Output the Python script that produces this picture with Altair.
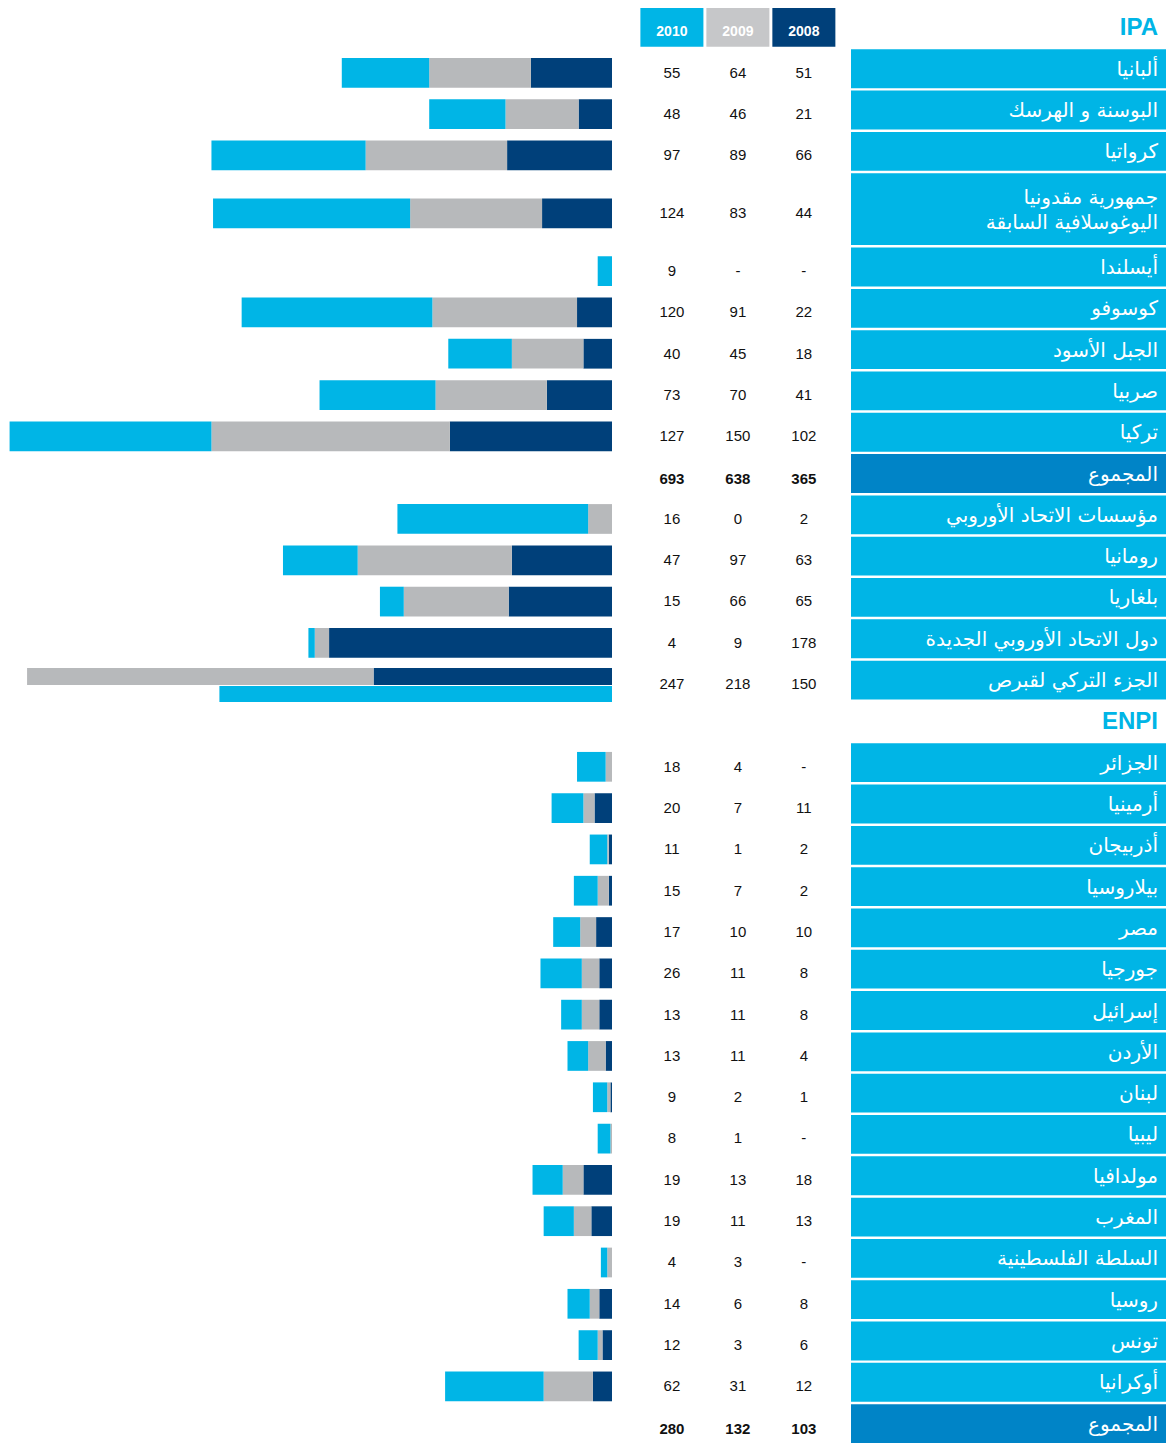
import altair as alt
import pandas as pd

# ---------------- data ----------------
YEARS = ["2010", "2009", "2008"]
TOTAL = "المجموع"

ipa_title = "IPA"
ipa_names = [
    "ألبانيا",
    "البوسنة و الهرسك",
    "كرواتيا",
    "جمهورية مقدونيا\nاليوغوسلافية السابقة",
    "أيسلندا",
    "كوسوفو",
    "الجبل الأسود",
    "صربيا",
    "تركيا",
    TOTAL,
    "مؤسسات الاتحاد الأوروبي",
    "رومانيا",
    "بلغاريا",
    "دول الاتحاد الأوروبي الجديدة",
    "الجزء التركي لقبرص",
]
ipa_2010 = [55, 48, 97, 124, 9, 120, 40, 73, 127, 693, 16, 47, 15, 4, 247]
ipa_2009 = [64, 46, 89, 83, None, 91, 45, 70, 150, 638, 0, 97, 66, 9, 218]
ipa_2008 = [51, 21, 66, 44, None, 22, 18, 41, 102, 365, 2, 63, 65, 178, 150]

enpi_title = "ENPI"
enpi_names = [
    "الجزائر", "أرمينيا", "أذربيجان", "بيلاروسيا", "مصر", "جورجيا",
    "إسرائيل", "الأردن", "لبنان", "ليبيا", "مولدافيا", "المغرب",
    "السلطة الفلسطينية", "روسيا", "تونس", "أوكرانيا", TOTAL,
]
enpi_2010 = [18, 20, 11, 15, 17, 26, 13, 13, 9, 8, 19, 19, 4, 14, 12, 62, 280]
enpi_2009 = [4, 7, 1, 7, 10, 11, 11, 11, 2, 1, 13, 11, 3, 6, 3, 31, 132]
enpi_2008 = [None, 11, 2, 2, 10, 8, 8, 4, 1, None, 18, 13, None, 8, 6, 12, 103]

# bar lengths drawn in the source that differ from the printed figures
bar_overrides = {"مؤسسات الاتحاد الأوروبي": (120, 15, 0)}

# ---------------- styling ----------------
CYAN = "#00b5e6"
GRAY = "#b7b9bb"
GRAY_HEAD = "#c6c7c9"
NAVY = "#00407a"
TOTAL_BLUE = "#0084c7"
XMAX = 380

# ---------------- build tables ----------------
rows = []


def add_section(title, names, v10, v09, v08):
    rows.append(dict(kind="title", name=title, vals=None))
    for n, a, b, c in zip(names, v10, v09, v08):
        rows.append(dict(kind="total" if n == TOTAL else "row", name=n, vals=(a, b, c)))


add_section(ipa_title, ipa_names, ipa_2010, ipa_2009, ipa_2008)
add_section(enpi_title, enpi_names, enpi_2010, enpi_2009, enpi_2008)

cur, prev_h = None, None
for r in rows:
    h = 1 + 0.8 * r["name"].count("\n")
    cur = 0.0 if cur is None else cur + prev_h / 2 + h / 2
    r["c"], r["h"] = cur, h
    prev_h = h

y_lo = -0.47
y_hi = rows[-1]["c"] + 0.47

bars, nums, boxes, titles = [], [], [], []
for r in rows:
    c = r["c"]
    if r["kind"] == "title":
        titles.append(dict(name=r["name"], c=c))
        continue
    half = r["h"] / 2 - 0.03
    boxes.append(dict(name=r["name"], c=c, b0=c - half, b1=c + half, kind=r["kind"],
                      multi=int(r["name"].count("\n") > 0)))
    for yr, v in zip(YEARS, r["vals"]):
        nums.append(dict(year=yr, c=c, label="-" if v is None else str(v), kind=r["kind"]))
    if r["kind"] == "row":
        b10, b09, b08 = bar_overrides.get(r["name"], tuple(0 if v is None else v for v in r["vals"]))
        if b10 + b09 + b08 > XMAX:
            bars.append(dict(year="2008", x0=0, x1=b08, y0=c - 0.29, y1=c + 0.12))
            bars.append(dict(year="2009", x0=b08, x1=b08 + b09, y0=c - 0.29, y1=c + 0.12))
            bars.append(dict(year="2010", x0=0, x1=b10, y0=c + 0.145, y1=c + 0.53))
        else:
            y0, y1 = c + 0.1 - 0.36, c + 0.1 + 0.36
            bars.append(dict(year="2008", x0=0, x1=b08, y0=y0, y1=y1))
            bars.append(dict(year="2009", x0=b08, x1=b08 + b09, y0=y0, y1=y1))
            bars.append(dict(year="2010", x0=b08 + b09, x1=b08 + b09 + b10, y0=y0, y1=y1))

bars_df = pd.DataFrame(bars)
bars_df = bars_df[bars_df.x1 > bars_df.x0]
nums_df = pd.DataFrame(nums)
boxes_df = pd.DataFrame(boxes)
titles_df = pd.DataFrame(titles)
head_c = rows[0]["c"]
head_df = pd.DataFrame(dict(year=YEARS, b0=[head_c - 0.47] * 3, b1=[head_c + 0.47] * 3, c=[head_c] * 3))

H = 1435


def yscale():
    return alt.Scale(domain=[y_lo, y_hi], reverse=True, nice=False, zero=False)


year_color = alt.Scale(domain=YEARS, range=[CYAN, GRAY, NAVY])

# ---------------- panel 1 : bars ----------------
bar_panel = alt.Chart(bars_df).mark_rect().encode(
    x=alt.X("x0:Q", scale=alt.Scale(domain=[0, XMAX], reverse=True, nice=False, zero=False), axis=None),
    x2="x1:Q",
    y=alt.Y("y0:Q", scale=yscale(), axis=None),
    y2="y1:Q",
    color=alt.Color("year:N", scale=year_color, legend=None),
).properties(width=604, height=H)

# ---------------- panel 2 : numbers ----------------
xband = alt.X("year:N", scale=alt.Scale(domain=YEARS, paddingInner=0.045, paddingOuter=0.326, align=0.66),
              axis=None)
head_boxes = alt.Chart(head_df).mark_rect().encode(
    x=xband,
    y=alt.Y("b0:Q", scale=yscale(), axis=None),
    y2="b1:Q",
    color=alt.Color("year:N", scale=alt.Scale(domain=YEARS, range=[CYAN, GRAY_HEAD, NAVY]), legend=None),
)
head_text = alt.Chart(head_df).mark_text(
    font="Liberation Sans", fontSize=14, fontWeight="bold", color="white", baseline="middle", dy=5
).encode(x=xband, y=alt.Y("c:Q", scale=yscale(), axis=None), text="year:N")
num_text = alt.Chart(nums_df).transform_filter(alt.datum.kind == "row").mark_text(
    font="Liberation Sans", fontSize=15, color="#111111", baseline="middle", dy=4
).encode(x=xband, y=alt.Y("c:Q", scale=yscale(), axis=None), text="label:N")
tot_text = alt.Chart(nums_df).transform_filter(alt.datum.kind == "total").mark_text(
    font="Liberation Sans", fontSize=15, fontWeight="bold", color="#111111", baseline="middle", dy=5
).encode(x=xband, y=alt.Y("c:Q", scale=yscale(), axis=None), text="label:N")
num_panel = alt.layer(head_boxes, head_text, num_text, tot_text).properties(width=238, height=H)

# ---------------- panel 3 : country labels ----------------
label_boxes = alt.Chart(boxes_df).mark_rect().encode(
    x=alt.value(1),
    x2=alt.value(316),
    y=alt.Y("b0:Q", scale=yscale(), axis=None),
    y2="b1:Q",
    color=alt.Color("kind:N", scale=alt.Scale(domain=["row", "total"], range=[CYAN, TOTAL_BLUE]), legend=None),
)
label_font = dict(font="DejaVu Sans", fontSize=20, color="white", align="right", baseline="middle",
                  lineBreak="\n", lineHeight=25)
label_text = alt.Chart(boxes_df).transform_filter(alt.datum.multi == 0).mark_text(
    dy=1, **label_font
).encode(x=alt.value(308), y=alt.Y("c:Q", scale=yscale(), axis=None), text="name:N")
label_text_multi = alt.Chart(boxes_df).transform_filter(alt.datum.multi == 1).mark_text(
    dy=-11, **label_font
).encode(x=alt.value(308), y=alt.Y("c:Q", scale=yscale(), axis=None), text="name:N")
title_text = alt.Chart(titles_df).mark_text(
    font="Liberation Sans", fontSize=24, fontWeight="bold", color=CYAN, align="right", baseline="middle", dy=1
).encode(x=alt.value(308), y=alt.Y("c:Q", scale=yscale(), axis=None), text="name:N")
label_panel = alt.layer(label_boxes, label_text, label_text_multi, title_text).properties(width=316, height=H)

chart = alt.hconcat(bar_panel, num_panel, label_panel, spacing=0).properties(
    padding=0
).configure_view(stroke=None).resolve_scale(color="independent")

chart.save("out.html", embed_options={"renderer": "svg", "actions": False})
